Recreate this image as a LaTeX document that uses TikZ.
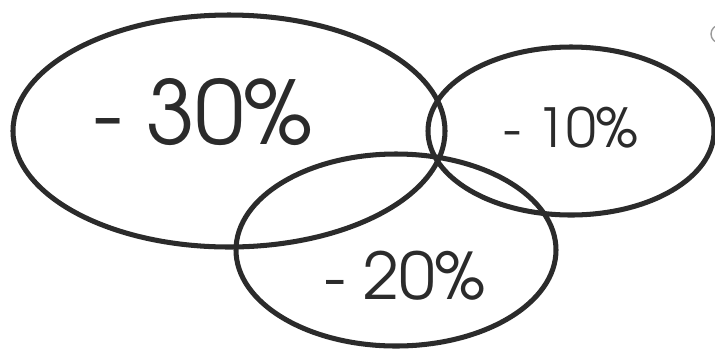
\documentclass[tikz,border=0pt]{standalone}
\usepackage{fontspec}
\usetikzlibrary{positioning}
\newfontfamily\gothicfont{texgyreadventor-regular.otf}
\definecolor{cutInk}{HTML}{2B2B2B}
\definecolor{cutFaint}{HTML}{9A9A9A}
\tikzset{
  cut ring/.style={draw=cutInk, line width=4.3pt},
  cut mark/.style={draw=cutFaint, line width=1.2pt},
  cut label/.style={text=cutInk, inner sep=0pt, anchor=center},
}
\begin{document}
\begin{tikzpicture}[x=0.03cm, y=-0.03cm]
  \useasboundingbox (0,0) rectangle (715,350);
  \clip (0,0) rectangle (715,350);
  % Three overlapping rings
  \draw[cut ring] (229,131) ellipse [x radius=216, y radius=116];
  \draw[cut ring] (571,131) ellipse [x radius=143, y radius=84];
  \draw[cut ring] (396,250) ellipse [x radius=160, y radius=96];
  % Stray mark in the corner
  \draw[cut mark] (720,34) circle [radius=9];
  % Percentages
  \node[cut label] (big) at (203,112) {\gothicfont\fontsize{75}{75}\selectfont - 30\%};
  \node[cut label] (right) at (571,128) {\gothicfont\fontsize{46}{46}\selectfont - 10\%};
  \node[cut label] (low) at (405,276) {\gothicfont\fontsize{55}{55}\selectfont - 20\%};
\end{tikzpicture}
\end{document}
